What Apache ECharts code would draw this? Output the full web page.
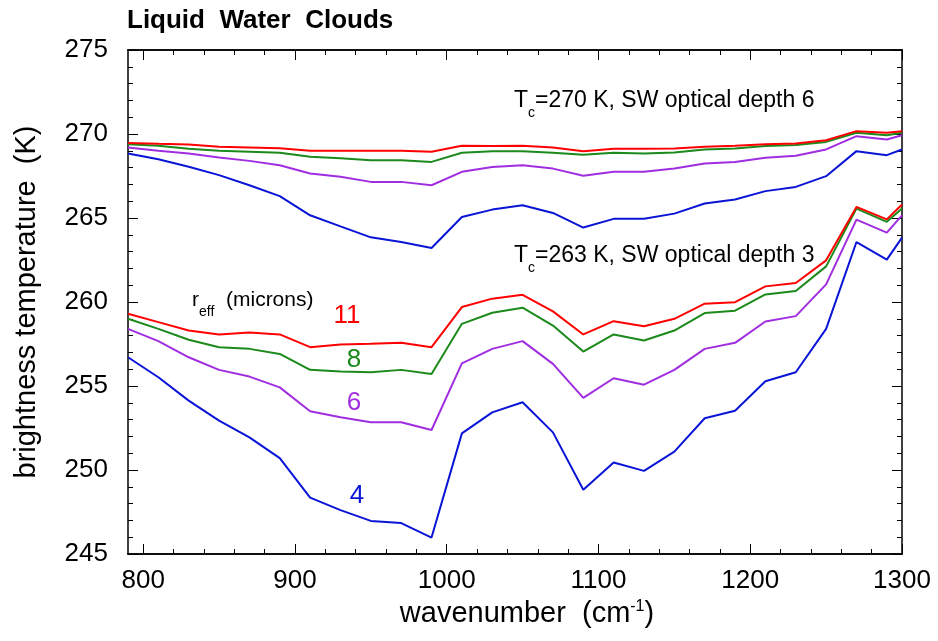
<!DOCTYPE html>
<html>
<head>
<meta charset="utf-8">
<script src="https://cdn.jsdelivr.net/npm/echarts@6/dist/echarts.min.js"></script>
<style>
html,body{margin:0;padding:0;background:#fff;}
#chart{width:938px;height:641px;}
</style>
</head>
<body>
<div id="chart"></div>
<script>
// ---- data ----
const wavenumbers = [790,810,830,850,870,890,910,930,950,970,990,1010,1030,1050,1070,1090,1110,1130,1150,1170,1190,1210,1230,1250,1270,1290,1300];

// Tc = 270 K, SW optical depth 6
const upper_r11 = [269.47,269.42,269.38,269.24,269.2,269.15,269.0,269.0,269.0,269.0,268.94,269.3,269.28,269.3,269.2,268.98,269.12,269.12,269.14,269.24,269.3,269.39,269.43,269.63,270.17,270.07,270.17];
const upper_r8  = [269.39,269.3,269.12,269.0,268.95,268.88,268.64,268.55,268.44,268.44,268.34,268.88,268.98,268.98,268.88,268.76,268.88,268.84,268.9,269.08,269.14,269.28,269.34,269.53,270.07,269.93,270.07];
const upper_r6  = [269.2,269.0,268.84,268.6,268.4,268.14,267.65,267.45,267.15,267.15,266.95,267.75,268.04,268.14,267.94,267.51,267.75,267.75,267.94,268.24,268.34,268.58,268.7,269.08,269.87,269.67,269.93];
const upper_r4  = [268.84,268.5,268.05,267.55,266.95,266.3,265.16,264.5,263.85,263.57,263.21,265.06,265.5,265.76,265.3,264.43,264.95,264.95,265.26,265.86,266.1,266.6,266.85,267.49,268.98,268.74,269.08];

// Tc = 263 K, SW optical depth 3
const lower_r11 = [259.3,258.8,258.3,258.07,258.18,258.07,257.31,257.47,257.51,257.57,257.31,259.7,260.2,260.43,259.44,258.07,258.86,258.56,259.0,259.9,259.99,260.93,261.13,262.48,265.66,264.92,265.8];
const lower_r8  = [259.0,258.4,257.75,257.31,257.21,256.91,255.96,255.86,255.82,255.96,255.72,258.7,259.36,259.66,258.6,257.05,258.07,257.71,258.3,259.34,259.48,260.45,260.65,262.12,265.56,264.77,265.56];
const lower_r6  = [258.4,257.67,256.71,255.96,255.56,254.92,253.5,253.14,252.84,252.84,252.38,256.35,257.21,257.67,256.32,254.29,255.46,255.08,255.96,257.21,257.57,258.84,259.16,261.05,264.9,264.13,265.16];
const lower_r4  = [256.71,255.52,254.13,252.94,251.94,250.71,248.36,247.61,246.97,246.84,245.98,252.18,253.43,254.03,252.24,248.82,250.45,249.95,251.09,253.08,253.53,255.28,255.82,258.4,263.57,262.52,263.83];

const xMajorTicks = [800,900,1000,1100,1200,1300];
const xMinorTicks = [800,820,840,860,880,900,920,940,960,980,1000,1020,1040,1060,1080,1100,1120,1140,1160,1180,1200,1220,1240,1260,1280,1300];
const radiusLabels = ['11','8','6','4'];

// ---- styling ----
const FONT = '"Liberation Sans", Arial, Helvetica, sans-serif';
const colors = {r11:'#ff0000', r8:'#1b8a1b', r6:'#a02ee0', r4:'#0a14d6'};
const pair = arr => wavenumbers.map((w,i)=>[w,arr[i]]);
function line(name, arr, color){
  return {name, type:'line', data:pair(arr), showSymbol:false, symbol:'none',
    lineStyle:{color, width:2}, itemStyle:{color}, z:3, animation:false};
}

const axisLineStyle = {color:'#000', width:1.5};
function xAxisDef(position, ticks, len, showLabel, extra){
  return Object.assign({
    type:'value', min:790, max:1300, position, gridIndex:0,
    axisLine:{show:true, onZero:false, lineStyle:axisLineStyle},
    axisTick:{show:true, inside:true, length:len, customValues:ticks, lineStyle:{color:'#000', width:1}},
    axisLabel:showLabel ? {show:true, customValues:xMajorTicks, formatter:v=>String(v), fontSize:26, fontFamily:FONT, color:'#000', margin:14} : {show:false},
    splitLine:{show:false}
  }, extra||{});
}
function yAxisDef(position, showLabel, extra){
  return Object.assign({
    type:'value', min:245, max:275, interval:5, position, gridIndex:0,
    axisLine:{show:true, onZero:false, lineStyle:axisLineStyle},
    axisTick:{show:true, inside:true, length:10, lineStyle:{color:'#000', width:1}},
    minorTick:{show:true, splitNumber:5, length:5, lineStyle:{color:'#000', width:1}},
    axisLabel:showLabel ? {show:true, formatter:v=>String(v), fontSize:26, fontFamily:FONT, color:'#000', margin:20, padding:[0,0,8,0]} : {show:false},
    splitLine:{show:false}, minorSplitLine:{show:false}
  }, extra||{});
}

const subRich = (mainSize, mainLH, subSize, subLH) => ({
  m:{fontSize:mainSize, fontFamily:FONT, lineHeight:mainLH, verticalAlign:'top', fill:'#000'},
  s:{fontSize:subSize, fontFamily:FONT, lineHeight:subLH, verticalAlign:'bottom', fill:'#000'}
});

const chart = echarts.init(document.getElementById('chart'), null, {renderer:'canvas'});
const option = {
  animation:false,
  backgroundColor:'#fff',
  title:{text:'Liquid  Water  Clouds', left:122, top:3,
    textStyle:{fontSize:26, fontWeight:'bold', fontFamily:FONT, color:'#000'}},
  grid:{left:128, right:36, top:50, bottom:87},
  xAxis:[
    xAxisDef('bottom', xMajorTicks, 10, true, {
      name:'wavenumber  (cm{sup|-1})', nameLocation:'middle', nameGap:44,
      nameTextStyle:{fontSize:29, fontFamily:FONT, color:'#000', lineHeight:30, verticalAlign:'top', padding:[0,0,0,24],
        rich:{sup:{fontSize:16, fontFamily:FONT, color:'#000', lineHeight:14, verticalAlign:'top'}}}
    }),
    xAxisDef('bottom', xMinorTicks, 5, false),
    xAxisDef('top', xMajorTicks, 10, false),
    xAxisDef('top', xMinorTicks, 5, false)
  ],
  yAxis:[
    yAxisDef('left', true, {
      name:'brightness temperature  (K)', nameLocation:'middle', nameGap:87, nameRotate:90,
      nameTextStyle:{fontSize:29, fontFamily:FONT, color:'#000'}
    }),
    yAxisDef('right', false)
  ],
  series:[
    line('upper 4', upper_r4, colors.r4),
    line('upper 6', upper_r6, colors.r6),
    line('upper 8', upper_r8, colors.r8),
    line('upper 11', upper_r11, colors.r11),
    line('lower 4', lower_r4, colors.r4),
    line('lower 6', lower_r6, colors.r6),
    line('lower 8', lower_r8, colors.r8),
    line('lower 11', lower_r11, colors.r11)
  ],
  graphic:[
    {type:'text', left:514, top:89, z:10, style:{
      text:'{m|T}{s|c}{m|=270 K, SW optical depth 6}', fill:'#000', rich:subRich(23,24,14,31)}},
    {type:'text', left:514, top:244, z:10, style:{
      text:'{m|T}{s|c}{m|=263 K, SW optical depth 3}', fill:'#000', rich:subRich(23,24,14,31)}},
    {type:'text', left:192, top:290, z:10, style:{
      text:'{m|r}{s|eff}{m|  (microns)}', fill:'#000', rich:subRich(21,22,14,29)}},
    {type:'text', x:347, y:316, z:10, style:{text:radiusLabels[0], fontSize:26, fontFamily:FONT, fill:colors.r11, align:'center', verticalAlign:'middle'}},
    {type:'text', x:354, y:360, z:10, style:{text:radiusLabels[1], fontSize:26, fontFamily:FONT, fill:colors.r8, align:'center', verticalAlign:'middle'}},
    {type:'text', x:354, y:403, z:10, style:{text:radiusLabels[2], fontSize:26, fontFamily:FONT, fill:colors.r6, align:'center', verticalAlign:'middle'}},
    {type:'text', x:357, y:496, z:10, style:{text:radiusLabels[3], fontSize:26, fontFamily:FONT, fill:colors.r4, align:'center', verticalAlign:'middle'}}
  ]
};
chart.setOption(option);
</script>
</body>
</html>
